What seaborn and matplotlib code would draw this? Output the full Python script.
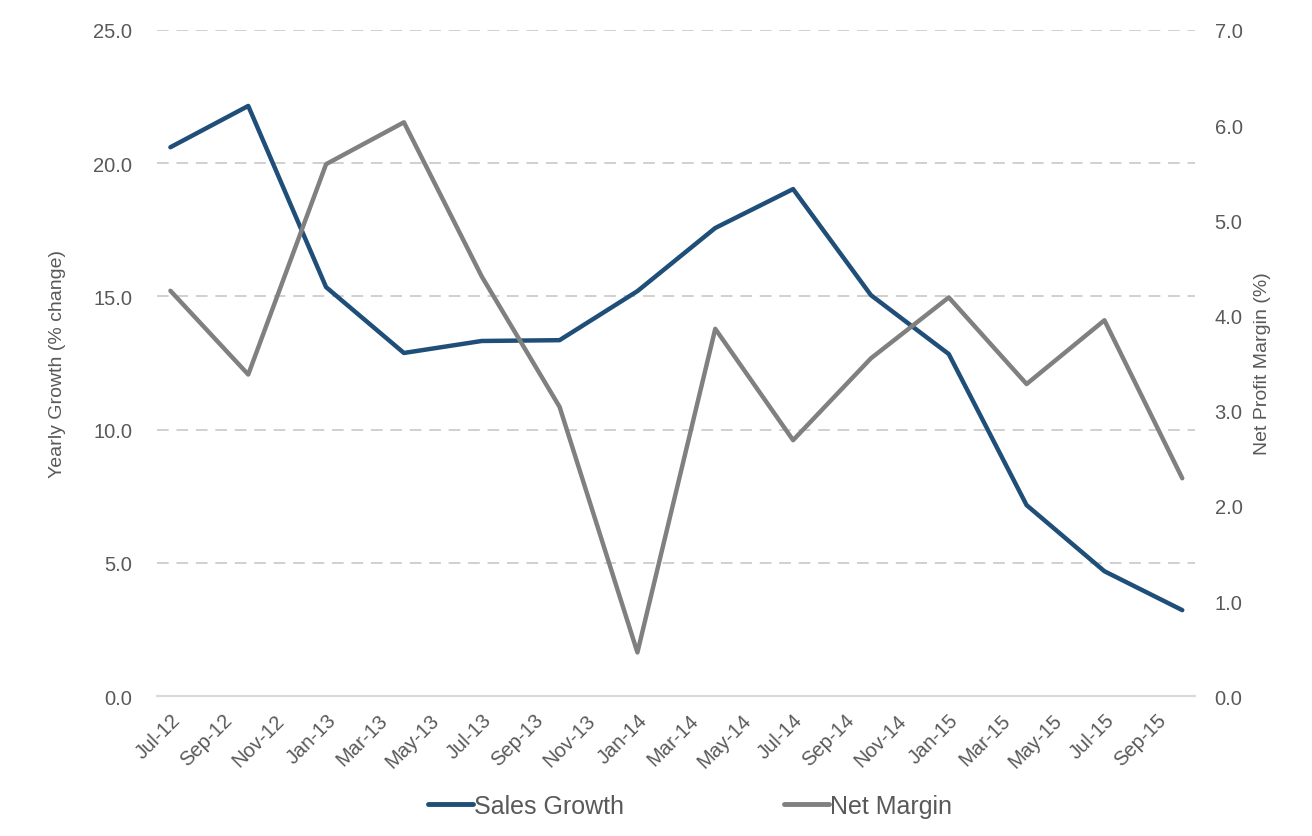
import pandas as pd
import matplotlib.pyplot as plt
import seaborn as sns
from matplotlib.lines import Line2D

# -------------------------------
# Data (quarterly)
# -------------------------------
quarters = ["Jul-12", "Oct-12", "Jan-13", "Apr-13", "Jul-13", "Oct-13", "Jan-14",
            "Apr-14", "Jul-14", "Oct-14", "Jan-15", "Apr-15", "Jul-15", "Oct-15"]
month_idx = [0, 3, 6, 9, 12, 15, 18, 21, 24, 27, 30, 33, 36, 39]
sales_growth = [20.6, 22.15, 15.35, 12.88, 13.33, 13.36, 15.2,
                17.57, 19.03, 15.05, 12.84, 7.17, 4.69, 3.23]
net_margin = [4.26, 3.38, 5.59, 6.03, 4.41, 3.04, 0.46,
              3.86, 2.69, 3.55, 4.19, 3.28, 3.95, 2.29]

tick_labels = ["Jul-12", "Sep-12", "Nov-12", "Jan-13", "Mar-13", "May-13", "Jul-13",
               "Sep-13", "Nov-13", "Jan-14", "Mar-14", "May-14", "Jul-14", "Sep-14",
               "Nov-14", "Jan-15", "Mar-15", "May-15", "Jul-15", "Sep-15"]

df = pd.DataFrame({"m": month_idx, "sales": sales_growth, "margin": net_margin})

# -------------------------------
# Style
# -------------------------------
sns.set_style("white")
plt.rcParams["font.family"] = ["Liberation Sans", "DejaVu Sans"]
txt = "#595959"
navy = "#1F4E79"
grey = "#808080"

fig = plt.figure(figsize=(13.12, 8.37), dpi=100)
ax = fig.add_axes([0.12, 0.167, 0.791, 0.796])
ax2 = ax.twinx()

sns.lineplot(data=df, x="m", y="sales", ax=ax, color=navy, linewidth=3.2, zorder=3)
sns.lineplot(data=df, x="m", y="margin", ax=ax2, color=grey, linewidth=3.2, zorder=3)

ax.set_xlim(-0.5, 39.5)
ax.set_ylim(0, 25)
ax2.set_ylim(0, 7)
ax.set_yticks([0, 5, 10, 15, 20, 25])
ax2.set_yticks(range(8))
ax.set_yticklabels([f"{v:.1f}" for v in ax.get_yticks()], color=txt, fontsize=14.5)
ax2.set_yticklabels([f"{v:.1f}" for v in ax2.get_yticks()], color=txt, fontsize=14.5)

ax.set_xticks(range(0, 40, 2))
ax.set_xticklabels(tick_labels, rotation=45, ha="right", rotation_mode="anchor",
                   color=txt, fontsize=14.5)

ax.set_xlabel("")
ax.set_ylabel("Yearly Growth (% change)", color=txt, fontsize=14, labelpad=20)
ax2.set_ylabel("Net Profit Margin (%)", color=txt, fontsize=14, labelpad=8)

# gridlines on the left axis
for v in [5, 10, 15, 20, 25]:
    ax.axhline(v, color="#D0D0D0", linestyle=(0, (6, 4)), linewidth=1.4, zorder=0)

for a in (ax, ax2):
    for s in ["top", "left", "right"]:
        a.spines[s].set_visible(False)
    a.spines["bottom"].set_color("#D9D9D9")
    a.spines["bottom"].set_linewidth(1.5)
    a.tick_params(length=0)
ax.tick_params(axis="y", pad=18)
ax.tick_params(axis="x", pad=10)
ax2.tick_params(axis="y", pad=14)

# -------------------------------
# Legend
# -------------------------------
handles = [Line2D([0], [0], color=navy, linewidth=3.5),
           Line2D([0], [0], color=grey, linewidth=3.5)]
leg = fig.legend(handles, ["Sales Growth", "Net Margin"], loc="center",
                 bbox_to_anchor=(0.526, 0.036), ncol=2, frameon=False,
                 fontsize=18, handlelength=1.8, handletextpad=0.05,
                 columnspacing=6.4)
for t in leg.get_texts():
    t.set_color(txt)

plt.savefig("out.png", dpi=100)
